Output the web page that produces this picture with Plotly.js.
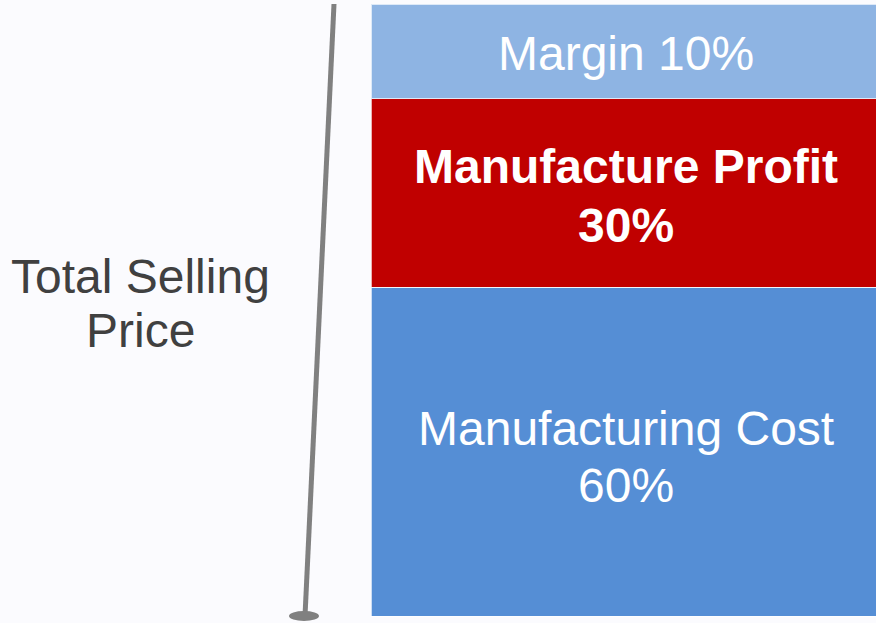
<!DOCTYPE html>
<html>
<head>
<meta charset="utf-8">
<script src="https://cdn.plot.ly/plotly-3.0.1.min.js"></script>
<style>
html,body{margin:0;padding:0;background:#FBFBFE;}
#chart{width:876px;height:623px;}
</style>
</head>
<body>
<div id="chart"></div>
<script>
// Segments, bottom to top
var segments = ["Manufacturing Cost", "Manufacture Profit", "Margin"];
var shareLabels = ["60%", "30%", "10%"];
var segmentHeights = [53.7, 30.8, 15.5]; // drawn heights
var segmentColors = ["#558ED5", "#C00000", "#8EB4E3"];
var segmentBold = [false, true, false];
var segmentLabelLines = [["Manufacturing Cost", "60%"], ["Manufacture Profit", "30%"], ["Margin 10%"]];
var axisLabelLines = ["Total Selling", "Price"];

var barX = 0.7118, barW = 0.5765;

var traces = segments.map(function (name, i) {
  return {
    type: "bar",
    name: name,
    x: [barX],
    y: [segmentHeights[i]],
    width: [barW],
    marker: {color: segmentColors[i], line: {color: "rgba(255,255,255,0.7)", width: 1}},
    hoverinfo: "skip",
    showlegend: false
  };
});

// label placement (pixel centers of each text line)
var H = 623;
var labelCenters = [[428, 485], [166.5, 225], [53.5]];
var annotations = [];
segmentLabelLines.forEach(function (lines, i) {
  lines.forEach(function (t, j) {
    var txt = segmentBold[i] ? "<b>" + t + "</b>" : t;
    annotations.push({
      xref: "paper", yref: "paper",
      x: 626 / 876, y: 1 - labelCenters[i][j] / H,
      xanchor: "center", yanchor: "middle",
      text: txt, showarrow: false,
      font: {family: "Liberation Sans, Arial, sans-serif", size: 48, color: "#FFFFFF"}
    });
  });
});
var axisCenters = [276, 330.5];
axisLabelLines.forEach(function (t, j) {
  annotations.push({
    xref: "paper", yref: "paper",
    x: 140 / 876, y: 1 - axisCenters[j] / H,
    xanchor: "center", yanchor: "middle",
    text: t, showarrow: false,
    font: {family: "Liberation Sans, Arial, sans-serif", size: 48, color: "#404040"}
  });
});

var layout = {
  width: 876, height: 623,
  margin: {l: 0, r: 0, t: 0, b: 0, pad: 0},
  paper_bgcolor: "#FBFBFE",
  plot_bgcolor: "#FBFBFE",
  barmode: "stack",
  xaxis: {range: [0, 1], visible: false, fixedrange: true},
  yaxis: {range: [-1.144, 100.654], visible: false, fixedrange: true},
  annotations: annotations,
  shapes: [
    {type: "line", xref: "x", yref: "y", x0: 334 / 876, y0: 100, x1: 305 / 876, y1: 0,
     line: {color: "#808080", width: 5}, layer: "above"},
    {type: "circle", xref: "x", yref: "y", x0: 289 / 876, x1: 319 / 876, y0: -0.82, y1: 0.82,
     fillcolor: "#808080", line: {width: 0}, layer: "above"}
  ]
};

Plotly.newPlot("chart", traces, layout, {displayModeBar: false, staticPlot: true});
</script>
</body>
</html>
